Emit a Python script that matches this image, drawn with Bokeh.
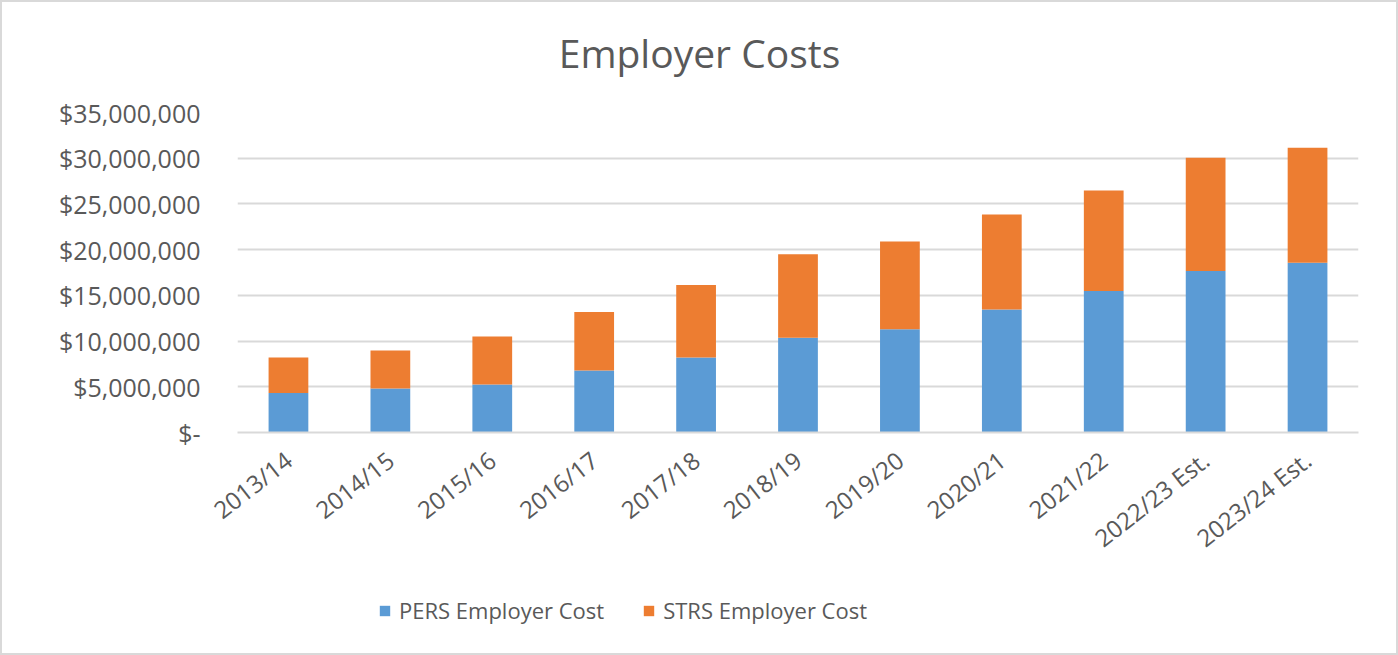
import math
from bokeh.plotting import figure
from bokeh.layouts import column
from bokeh.models import Range1d, Legend, LegendItem, Label, CustomJSTickFormatter, FixedTicker
from bokeh.embed import file_html
from bokeh.resources import INLINE

categories = ["2013/14", "2014/15", "2015/16", "2016/17", "2017/18", "2018/19",
              "2019/20", "2020/21", "2021/22", "2022/23 Est.", "2023/24 Est."]
pers = [4310000, 4810000, 5250000, 6780000, 8200000, 10360000,
        11300000, 13460000, 15470000, 17660000, 18570000]
totals = [8200000, 8970000, 10500000, 13170000, 16130000, 19500000,
          20900000, 23850000, 26480000, 30050000, 31150000]
strs = [t - p for t, p in zip(totals, pers)]
y_ticks = [0, 5000000, 10000000, 15000000, 20000000, 25000000, 30000000, 35000000]
series_names = ["PERS Employer Cost", "STRS Employer Cost"]
chart_title = "Employer Costs"

FONT = "Open Sans"
TXT = "#595959"
GRID = "#d9d9d9"
BLUE = "#5B9BD5"
ORANGE = "#ED7D31"

data = dict(cat=categories, pers=pers, strs=strs)


def strip_figure(h):
    f = figure(width=1394, height=h, output_backend="svg", toolbar_location=None,
               x_range=Range1d(0, 1), y_range=Range1d(0, 1),
               x_axis_location=None, y_axis_location=None,
               min_border_left=235, min_border_right=38,
               min_border_top=0, min_border_bottom=0)
    f.grid.visible = False
    f.outline_line_color = None
    f.border_fill_color = "white"
    f.background_fill_color = "white"
    return f


# title strip
tf = strip_figure(90)
tf.add_layout(Label(x=462, y=40, x_units="screen", y_units="screen",
                    text=chart_title, text_font=FONT, text_font_size="39px",
                    text_color=TXT, text_align="center", text_baseline="middle"))

# main chart
p = figure(x_range=categories, width=1394, height=485,
           output_backend="svg", toolbar_location=None,
           min_border_left=235, min_border_right=38,
           min_border_top=20, min_border_bottom=145)
p.title = None
p.y_range = Range1d(0, 35000000)
p.x_range.range_padding = 0

r = p.vbar_stack(["pers", "strs"], x="cat", width=0.39, color=[BLUE, ORANGE],
                 line_color=None, source=data)

p.outline_line_color = None
p.background_fill_color = "white"
p.border_fill_color = "white"

p.xgrid.grid_line_color = None
p.ygrid.grid_line_color = GRID
p.ygrid.grid_line_width = 2

p.yaxis.ticker = FixedTicker(ticks=y_ticks)
p.yaxis.formatter = CustomJSTickFormatter(code="""
if (tick == 0) { return "$-"; }
return "$" + Math.round(tick).toString().replace(/\\B(?=(\\d{3})+(?!\\d))/g, ",");
""")
p.yaxis.axis_line_color = None
p.yaxis.major_tick_line_color = None
p.yaxis.minor_tick_line_color = None
p.yaxis.major_tick_in = 0
p.yaxis.major_tick_out = 0
p.yaxis.major_label_standoff = 37
p.yaxis.major_label_text_font = FONT
p.yaxis.major_label_text_font_size = "25px"
p.yaxis.major_label_text_color = TXT

p.xaxis.axis_line_color = GRID
p.xaxis.axis_line_width = 2
p.xaxis.major_tick_line_color = None
p.xaxis.minor_tick_line_color = None
p.xaxis.major_tick_in = 0
p.xaxis.major_tick_out = 0
p.xaxis.major_label_orientation = math.radians(38)
p.xaxis.major_label_standoff = 24
p.xaxis.major_label_text_font = FONT
p.xaxis.major_label_text_font_size = "24px"
p.xaxis.major_label_text_color = TXT

# legend strip below the chart
lf = strip_figure(76)
# zero-height proxy bars, only used for the legend swatches
lr1 = lf.vbar(x=[0.5], top=[0], bottom=[0], width=0.01, fill_color=BLUE, line_color=None)
lr2 = lf.vbar(x=[0.5], top=[0], bottom=[0], width=0.01, fill_color=ORANGE, line_color=None)
legend = Legend(items=[LegendItem(label=series_names[0], renderers=[lr1]),
                       LegendItem(label=series_names[1], renderers=[lr2])],
                location=(141, 28), orientation="horizontal",
                glyph_width=13, glyph_height=13, label_standoff=8, spacing=38,
                padding=0, margin=0, border_line_color=None,
                background_fill_alpha=0,
                label_text_font=FONT, label_text_font_size="22px",
                label_text_color=TXT)
lf.add_layout(legend, "center")

layout = column(tf, p, lf, spacing=0,
                styles={"border": "2px solid #d9d9d9", "background": "white"})

open("out.html", "w").write(file_html(layout, INLINE))
